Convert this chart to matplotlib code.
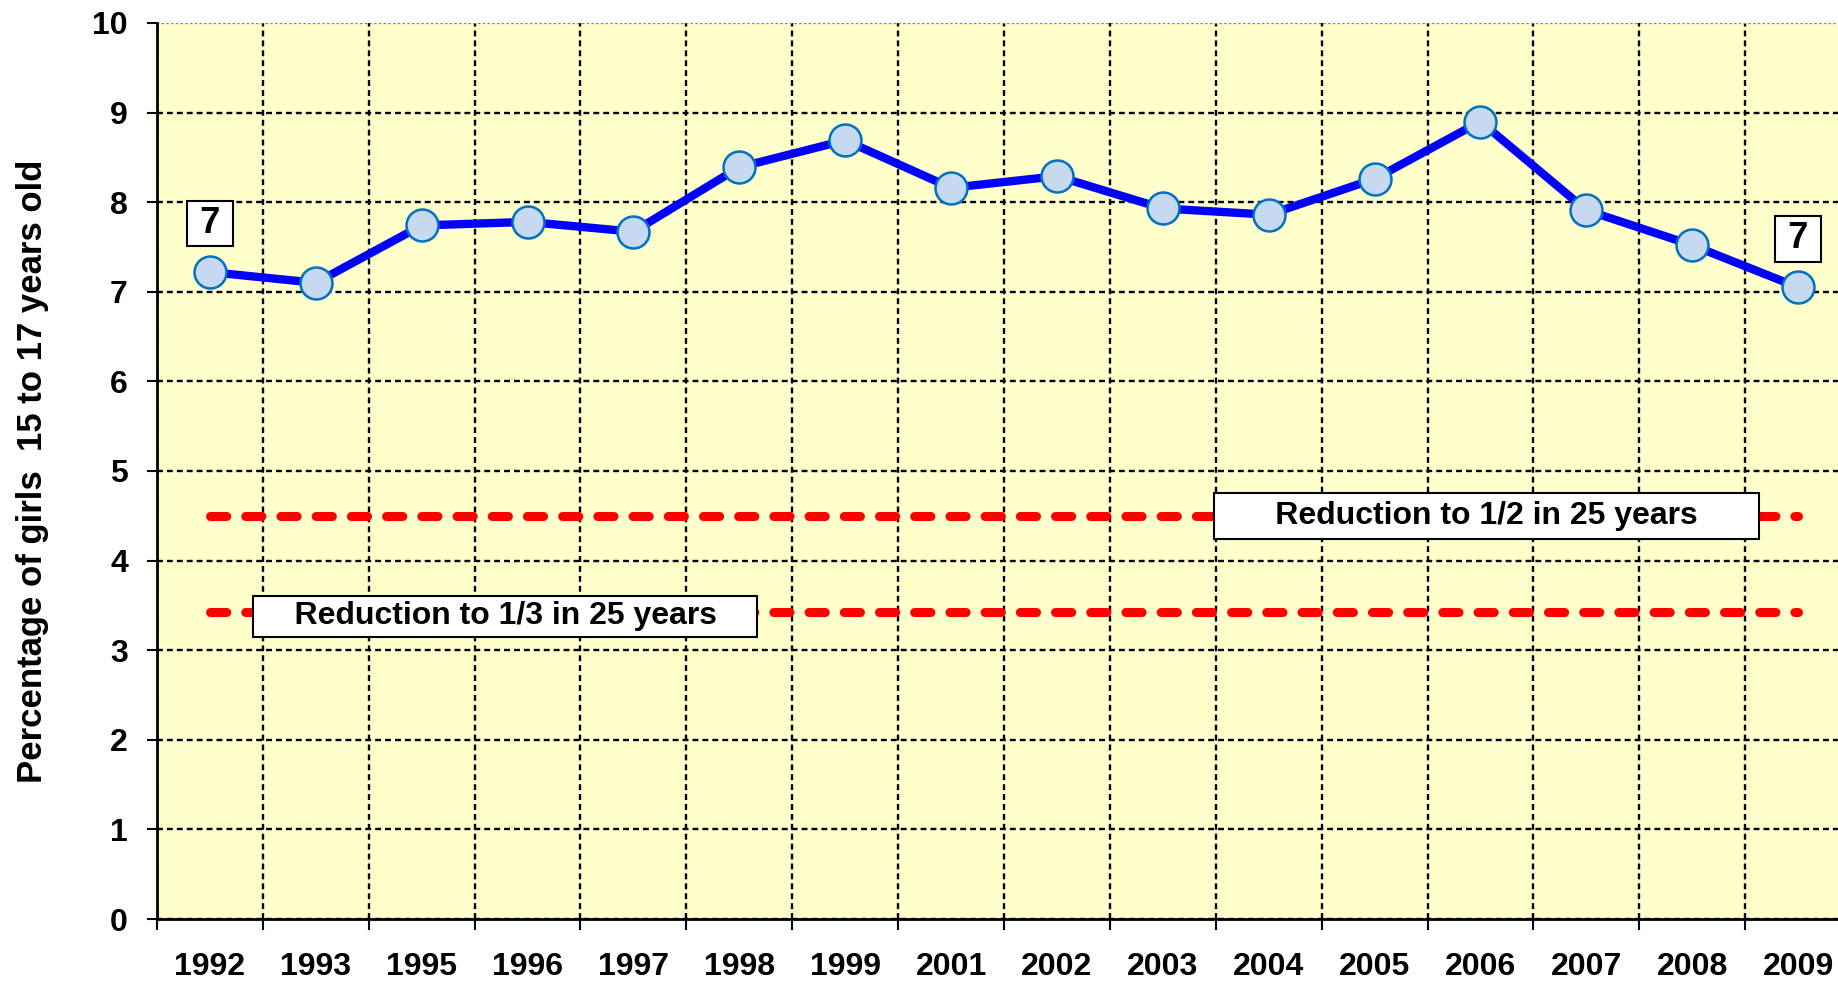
import matplotlib.pyplot as plt
import numpy as np

plt.rcParams['font.family'] = ['Liberation Sans', 'DejaVu Sans']
plt.rcParams['font.weight'] = 'bold'

# data
years = ['1992', '1993', '1995', '1996', '1997', '1998', '1999', '2001',
         '2002', '2003', '2004', '2005', '2006', '2007', '2008', '2009']
pct = [7.22, 7.10, 7.74, 7.78, 7.67, 8.39, 8.69, 8.16,
       8.29, 7.93, 7.86, 8.26, 8.90, 7.91, 7.52, 7.05]
half_target = 4.5     # reduction to 1/2
third_target = 3.43   # reduction to 1/3
y_ticks = list(range(0, 11))

x = np.arange(len(years))

fig = plt.figure(figsize=(18.38, 9.85), dpi=100)
ax = fig.add_axes([0.0854, 0.067, 0.9217, 0.9097])
ax.set_facecolor('#FFFFCC')

# target lines
red_kw = dict(color='#FF0000', lw=6.5, dashes=(1.8, 2.1), dash_capstyle='round', zorder=2)
ax.plot([x[0], x[-1]], [half_target, half_target], **red_kw)
ax.plot([x[0], x[-1]], [third_target, third_target], **red_kw)

# main series
ax.plot(x, pct, color='#0000FF', lw=6, marker='o', markersize=23,
        markerfacecolor='#C6D9F1', markeredgecolor='#0070C0', markeredgewidth=1.8,
        zorder=4)

# labels on first and last points
box = dict(boxstyle='square,pad=0.15', fc='white', ec='black', lw=1.5)
for i in [0, len(x) - 1]:
    ax.annotate('\u2009%d\u2009' % round(pct[i]), (x[i], pct[i]), xytext=(0, 35),
                textcoords='offset points', ha='center', va='center',
                fontsize=26, fontweight='bold', bbox=box, zorder=5)

# text boxes for the targets
ax.text(2.79, 3.38, '    Reduction to 1/3 in 25 years    ', ha='center', va='center',
        fontsize=23, fontweight='bold', zorder=5,
        bbox=dict(boxstyle='square,pad=0.17', fc='white', ec='black', lw=1.5))
ax.text(12.06, 4.5, '      Reduction to 1/2 in 25 years      ', ha='center', va='center',
        fontsize=23, fontweight='bold', zorder=5,
        bbox=dict(boxstyle='square,pad=0.25', fc='white', ec='black', lw=1.5))

# axes, ticks, grid
ax.set_xlim(-0.5, len(x) - 0.5)
ax.set_ylim(0, 10)
ax.set_xticks(np.arange(-0.5, len(x)), labels=[])
ax.set_xticks(x, labels=years, minor=True)
ax.set_yticks(y_ticks)
ax.tick_params(axis='x', which='major', length=8, width=1.5, direction='out')
ax.tick_params(axis='x', which='minor', length=0, pad=24, labelsize=23)
ax.tick_params(axis='y', length=7, width=1.5, pad=14, labelsize=23)
for lab in ax.get_xticklabels(minor=True) + ax.get_yticklabels():
    lab.set_fontweight('bold')

ax.grid(True, which='major', color='black', ls=(0, (2.5, 1.7)), lw=1.7, zorder=1)
ax.set_axisbelow(True)
ax.get_ygridlines()[-1].set_color('gray')
ax.get_ygridlines()[-1].set_linestyle((0, (1, 1)))

ax.spines['top'].set_visible(False)
ax.spines['right'].set_visible(False)
ax.spines['left'].set_linewidth(2)
ax.spines['bottom'].set_linewidth(2)

ax.set_ylabel('Percentage of girls  15 to 17 years old', fontsize=25, fontweight='bold')
ax.yaxis.set_label_coords(-0.064, 0.5)

fig.savefig('out.png', dpi=100)
